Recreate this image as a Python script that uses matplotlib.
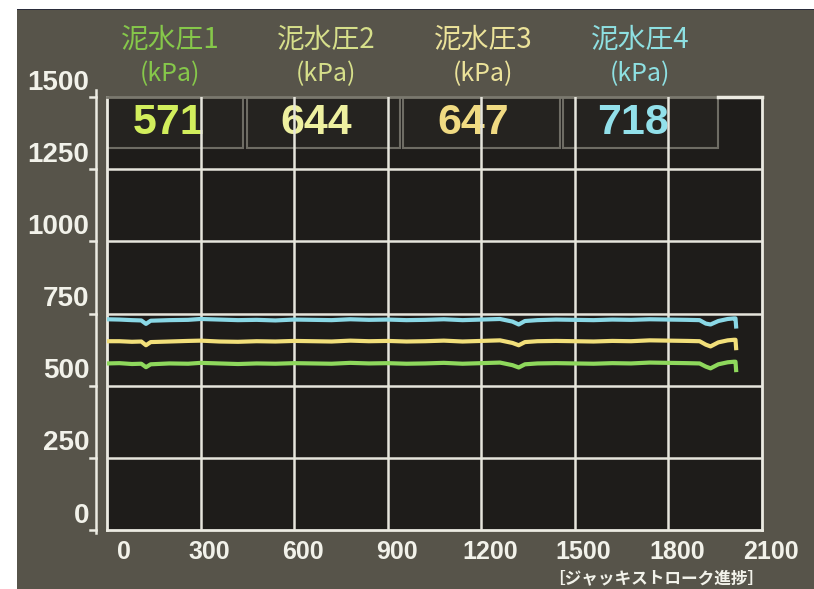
import matplotlib
matplotlib.use("Agg")
import matplotlib.pyplot as plt
from matplotlib.patches import Rectangle

stroke = [0, 40, 80, 110, 125, 140, 200, 260, 300, 360,
          420, 480, 540, 600, 660, 720, 780, 840, 900, 960,
          1020, 1080, 1140, 1200, 1260, 1300, 1320, 1340, 1380, 1440,
          1500, 1560, 1620, 1680, 1740, 1800, 1860, 1900, 1920, 1935,
          1960, 1990, 2010, 2015, 2017]
p4 = [730, 729, 727, 726, 714, 725, 727, 728, 731, 729,
      727, 728, 726, 729, 728, 727, 730, 728, 729, 727,
      728, 730, 727, 729, 731, 722, 712, 724, 727, 729,
      728, 727, 729, 728, 730, 729, 728, 727, 715, 712,
      724, 731, 733, 733, 705]
p3 = [654, 654, 652, 653, 640, 651, 653, 655, 656, 653,
      652, 654, 653, 655, 654, 653, 656, 654, 655, 653,
      654, 656, 653, 655, 657, 648, 640, 651, 654, 655,
      654, 653, 655, 654, 657, 656, 655, 654, 642, 636,
      650, 657, 659, 659, 630]
p1 = [577, 578, 575, 576, 564, 574, 577, 576, 579, 577,
      575, 577, 576, 578, 577, 576, 579, 577, 578, 576,
      577, 579, 576, 578, 580, 571, 563, 574, 577, 578,
      577, 576, 578, 577, 580, 579, 578, 577, 566, 560,
      574, 581, 583, 583, 554]

x_ticks = [0, 300, 600, 900, 1200, 1500, 1800, 2100]
y_ticks = [0, 250, 500, 750, 1000, 1250, 1500]

names = ["泥水圧1", "泥水圧2", "泥水圧3", "泥水圧4"]
readings = ["571", "644", "647", "718"]
name_colors = ["#86c84a", "#d6df8a", "#ece39a", "#8ee0e2"]
num_colors = ["#d2ee5c", "#eef0a0", "#f0da82", "#92e0ea"]

W, H = 814, 589
fig = plt.figure(figsize=(W / 100, H / 100), dpi=100, facecolor="white")
fig.patches.append(Rectangle((17 / W, 0), 1, (H - 9) / H, transform=fig.transFigure,
                             facecolor="#57544a", edgecolor="none", zorder=-10))
fig.patches.append(Rectangle((17 / W, (H - 10) / H), 1, 1.5 / H, transform=fig.transFigure,
                             facecolor="#2a2c3a", edgecolor="none", zorder=-10))

ax = fig.add_axes([107 / W, 59 / H, 655 / W, 433 / H])
ax.set_facecolor("#1e1c1a")
ax.set_xlim(0, 2100)
ax.set_ylim(0, 1500)
ax.set_xticks([])
ax.set_yticks([])
for s in ax.spines.values():
    s.set_color("#ecebe2")
    s.set_linewidth(2)
ax.spines["top"].set_color("#7a786e")
ax.plot([1958, 2100], [1500, 1500], color="#ecebe2", lw=2.5, clip_on=False, zorder=6)

grid_c = "#e6e5dc"
for v in x_ticks[1:-1]:
    ax.axvline(v, color=grid_c, lw=1.8, zorder=4)
for v in y_ticks[1:-1]:
    ax.axhline(v, color=grid_c, lw=1.8, zorder=4)

# readout boxes in the top row
boxes = [(0, 436), (449, 939), (949, 1452), (1462, 1958)]
for (a, b), txt, c in zip(boxes, readings, num_colors):
    ax.add_patch(Rectangle((a, 1323), b - a, 177, facecolor="#252320",
                           edgecolor="#6e6c64", lw=1.5, zorder=1))
    ax.text(a + (b - a) * 0.45, 1410, txt, color=c, fontsize=31, fontweight="bold",
            family=["Liberation Sans", "DejaVu Sans"], ha="center", va="center", zorder=3)

# series labels above the plot
label_x = [170, 326, 483, 640]
for lx, n, c in zip(label_x, names, name_colors):
    fig.text(lx / W, 1 - 40 / H, n, color=c, fontsize=20, family=["Noto Sans CJK JP", "DejaVu Sans"],
             ha="center", va="center")
    fig.text(lx / W, 1 - 74 / H, "(kPa)", color=c, fontsize=18, family=["Noto Sans CJK JP", "DejaVu Sans"],
             ha="center", va="center")

ax.plot(stroke, p4, color="#8ad8e6", lw=3, zorder=5)
ax.plot(stroke, p3, color="#f2df7a", lw=3, zorder=5)
ax.plot(stroke, p1, color="#8ed85c", lw=3, zorder=5)

tick_font = ["Liberation Sans Narrow", "Liberation Sans", "DejaVu Sans"]
ytr = ax.get_yaxis_transform()
ax.plot([-0.017, -0.017], [-12, 1525], color="#ecebe2", lw=1.8, transform=ytr, clip_on=False)
for v in y_ticks:
    ax.plot([-0.026, -0.017], [v, v], color="#ecebe2", lw=1.8, transform=ytr, clip_on=False)
    ax.text(-0.027, v + 50, str(v), transform=ytr, ha="right", va="center", color="#f2f2ea",
            fontsize=20, fontweight="bold", family=tick_font)

xtr = ax.get_xaxis_transform()
for v in x_ticks:
    ax.text(v + (55 if v == 0 else 28), -0.05, str(v), transform=xtr, ha="center", va="center",
            color="#f2f2ea", fontsize=18, fontweight="bold", family=tick_font)

fig.text(656 / W, 1 - 578 / H, "［ジャッキストローク進捗］", color="#f2f2ea", fontsize=12,
         fontweight="bold", family=["Noto Sans CJK JP", "DejaVu Sans"], ha="center", va="center")

fig.savefig("out.png", dpi=100, facecolor=fig.get_facecolor())
